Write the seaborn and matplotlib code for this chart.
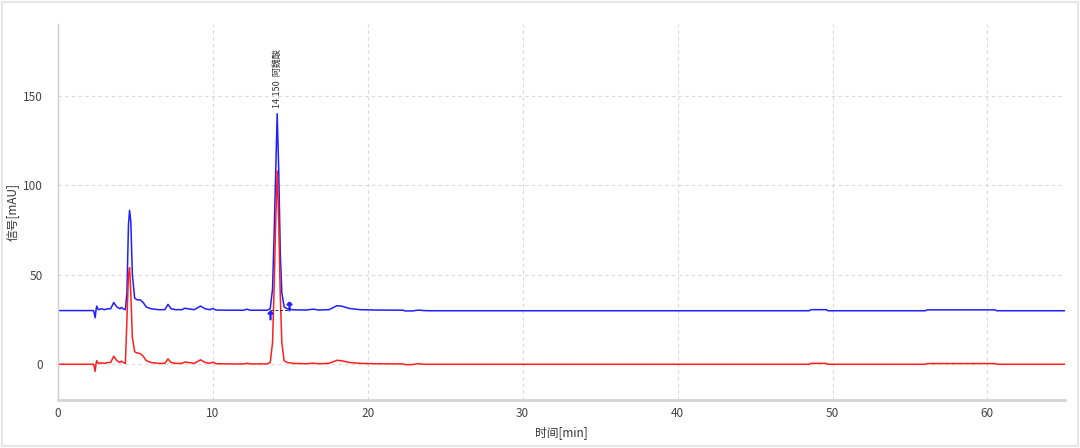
import numpy as np
import pandas as pd
import matplotlib
matplotlib.use("Agg")
import matplotlib.pyplot as plt
from matplotlib.ticker import MultipleLocator
from matplotlib.patches import Rectangle
import seaborn as sns

# retention time [min], shared by both traces
time = [0, 2.3, 2.4, 2.45, 2.5, 2.6, 2.8, 3.0, 3.2, 3.4, 3.6, 3.8, 4.0, 4.1, 4.2,
        4.35, 4.45, 4.55, 4.62, 4.7, 4.8, 4.95, 5.1, 5.3, 5.5, 5.7, 6.0, 6.5, 6.9,
        7.1, 7.3, 7.6, 8.0, 8.2, 8.4, 8.8, 9.2, 9.5, 9.8, 10.0, 10.2, 11.0, 12.0,
        12.2, 12.4, 13.5, 13.7, 13.85, 13.95, 14.05, 14.15, 14.25, 14.35, 14.45,
        14.6, 14.8, 15.2, 16.0, 16.5, 16.8, 17.5, 18.0, 18.3, 18.8, 19.5, 20.5,
        22.3, 22.4, 22.9, 23.2, 23.4, 23.6, 24.0, 48.5, 48.6, 49.6, 49.7, 56.0,
        56.1, 60.5, 60.6, 65.0]

# signal [mAU]
blue_signal = [30, 30, 26, 30, 32.5, 30.5, 31, 30.5, 31, 31, 34.5, 32, 31, 31.8, 31,
               30.5, 40, 78, 86, 80, 50, 37, 36, 36, 34.5, 32, 31, 30.5, 30.5,
               33.5, 31, 30.5, 30.5, 31.3, 31, 30.5, 32.5, 31, 30.5, 31.2, 30.3, 30.2, 30.2,
               30.8, 30.2, 30.2, 31, 42, 72, 106, 140, 108, 62, 40,
               32, 31, 30.4, 30.3, 30.8, 30.3, 30.5, 32.7, 32.5, 31.2, 30.5, 30.3,
               30.2, 29.8, 29.8, 30.2, 30.2, 30, 29.9, 29.9, 30.5, 30.5, 29.9, 29.9,
               30.4, 30.4, 29.9, 29.9]

red_signal = [0, 0, -4, 0, 2, 0.5, 0.8, 0.5, 1, 1, 4.5, 2, 1, 1.8, 1,
              0.5, 25, 50, 54, 40, 15, 7, 6.3, 6, 4.5, 2, 1, 0.5, 0.5,
              3, 1, 0.5, 0.5, 1.3, 1, 0.5, 2.5, 1, 0.5, 1.2, 0.3, 0.2, 0.2,
              0.6, 0.2, 0.2, 1, 12, 42, 78, 108, 80, 38, 12,
              2, 1, 0.5, 0.3, 0.6, 0.3, 0.5, 2.2, 2, 1, 0.5, 0.3,
              0.2, -0.2, -0.2, 0.3, 0.2, 0, 0, 0, 0.5, 0.5, 0, 0,
              0.4, 0.4, 0, 0]

peak_time = 14.15
peak_label = "14.150  阿魏酸"
marker_times = [13.7, 14.9]
marker_values = [27.8, 32.8]

df = pd.DataFrame({
    "time": time * 2,
    "signal": blue_signal + red_signal,
    "trace": ["blue"] * len(time) + ["red"] * len(time),
})

sns.set_style("white")
plt.rcParams["font.family"] = ["Noto Sans CJK SC", "DejaVu Sans"]

fig = plt.figure(figsize=(10.8, 4.48), dpi=100)
ax = fig.add_axes([0.0537, 0.107, 0.9323, 0.839])

sns.lineplot(data=df, x="time", y="signal", hue="trace", sort=False, estimator=None,
             palette={"blue": "#1f1fff", "red": "#ff1f1f"}, linewidth=1.1,
             legend=False, ax=ax)

# integration markers and baseline of the labelled peak
ax.plot(marker_times, [30.2, 30.2], color="#333333", linestyle=(0, (3, 2)), linewidth=0.7)
ax.plot(marker_times, marker_values, linestyle="none", marker=r"$\uparrow$",
        markersize=6, color="#1f1fff")

ax.text(peak_time, 143, peak_label, rotation=90, ha="center", va="bottom",
        fontsize=6.5, color="#333333")

ax.set_xlim(0, 65)
ax.set_ylim(-20, 190)
ax.xaxis.set_major_locator(MultipleLocator(10))
ax.xaxis.set_minor_locator(MultipleLocator(2))
ax.yaxis.set_major_locator(MultipleLocator(50))
ax.yaxis.set_minor_locator(MultipleLocator(10))
ax.set_yticks([0, 50, 100, 150])

ax.grid(True, which="major", linestyle=(0, (3, 3)), color="#d9d9d9", linewidth=0.8)
ax.tick_params(axis="both", which="major", direction="out", length=3,
               color="#c8c8c8", labelsize=8.5, labelcolor="#444444")
ax.tick_params(axis="both", which="minor", direction="out", length=3, color="#c8c8c8")
ax.tick_params(axis="x", pad=2)
ax.tick_params(axis="y", pad=8)

for side in ["top", "right"]:
    ax.spines[side].set_visible(False)
ax.spines["left"].set_color("#cfcfcf")
ax.spines["left"].set_linewidth(1)
ax.spines["bottom"].set_color("#d5d5d5")
ax.spines["bottom"].set_linewidth(2)

ax.set_xlabel("时间[min]", fontsize=8.5, color="#333333", labelpad=4)
ax.set_ylabel("信号[mAU]", fontsize=8.5, color="#333333", labelpad=3)

fig.patches.append(Rectangle((0.002, 0.004), 0.996, 0.992, transform=fig.transFigure,
                             fill=False, edgecolor="#e6e6e6", linewidth=1.5))

fig.savefig("out.png", dpi=100)
